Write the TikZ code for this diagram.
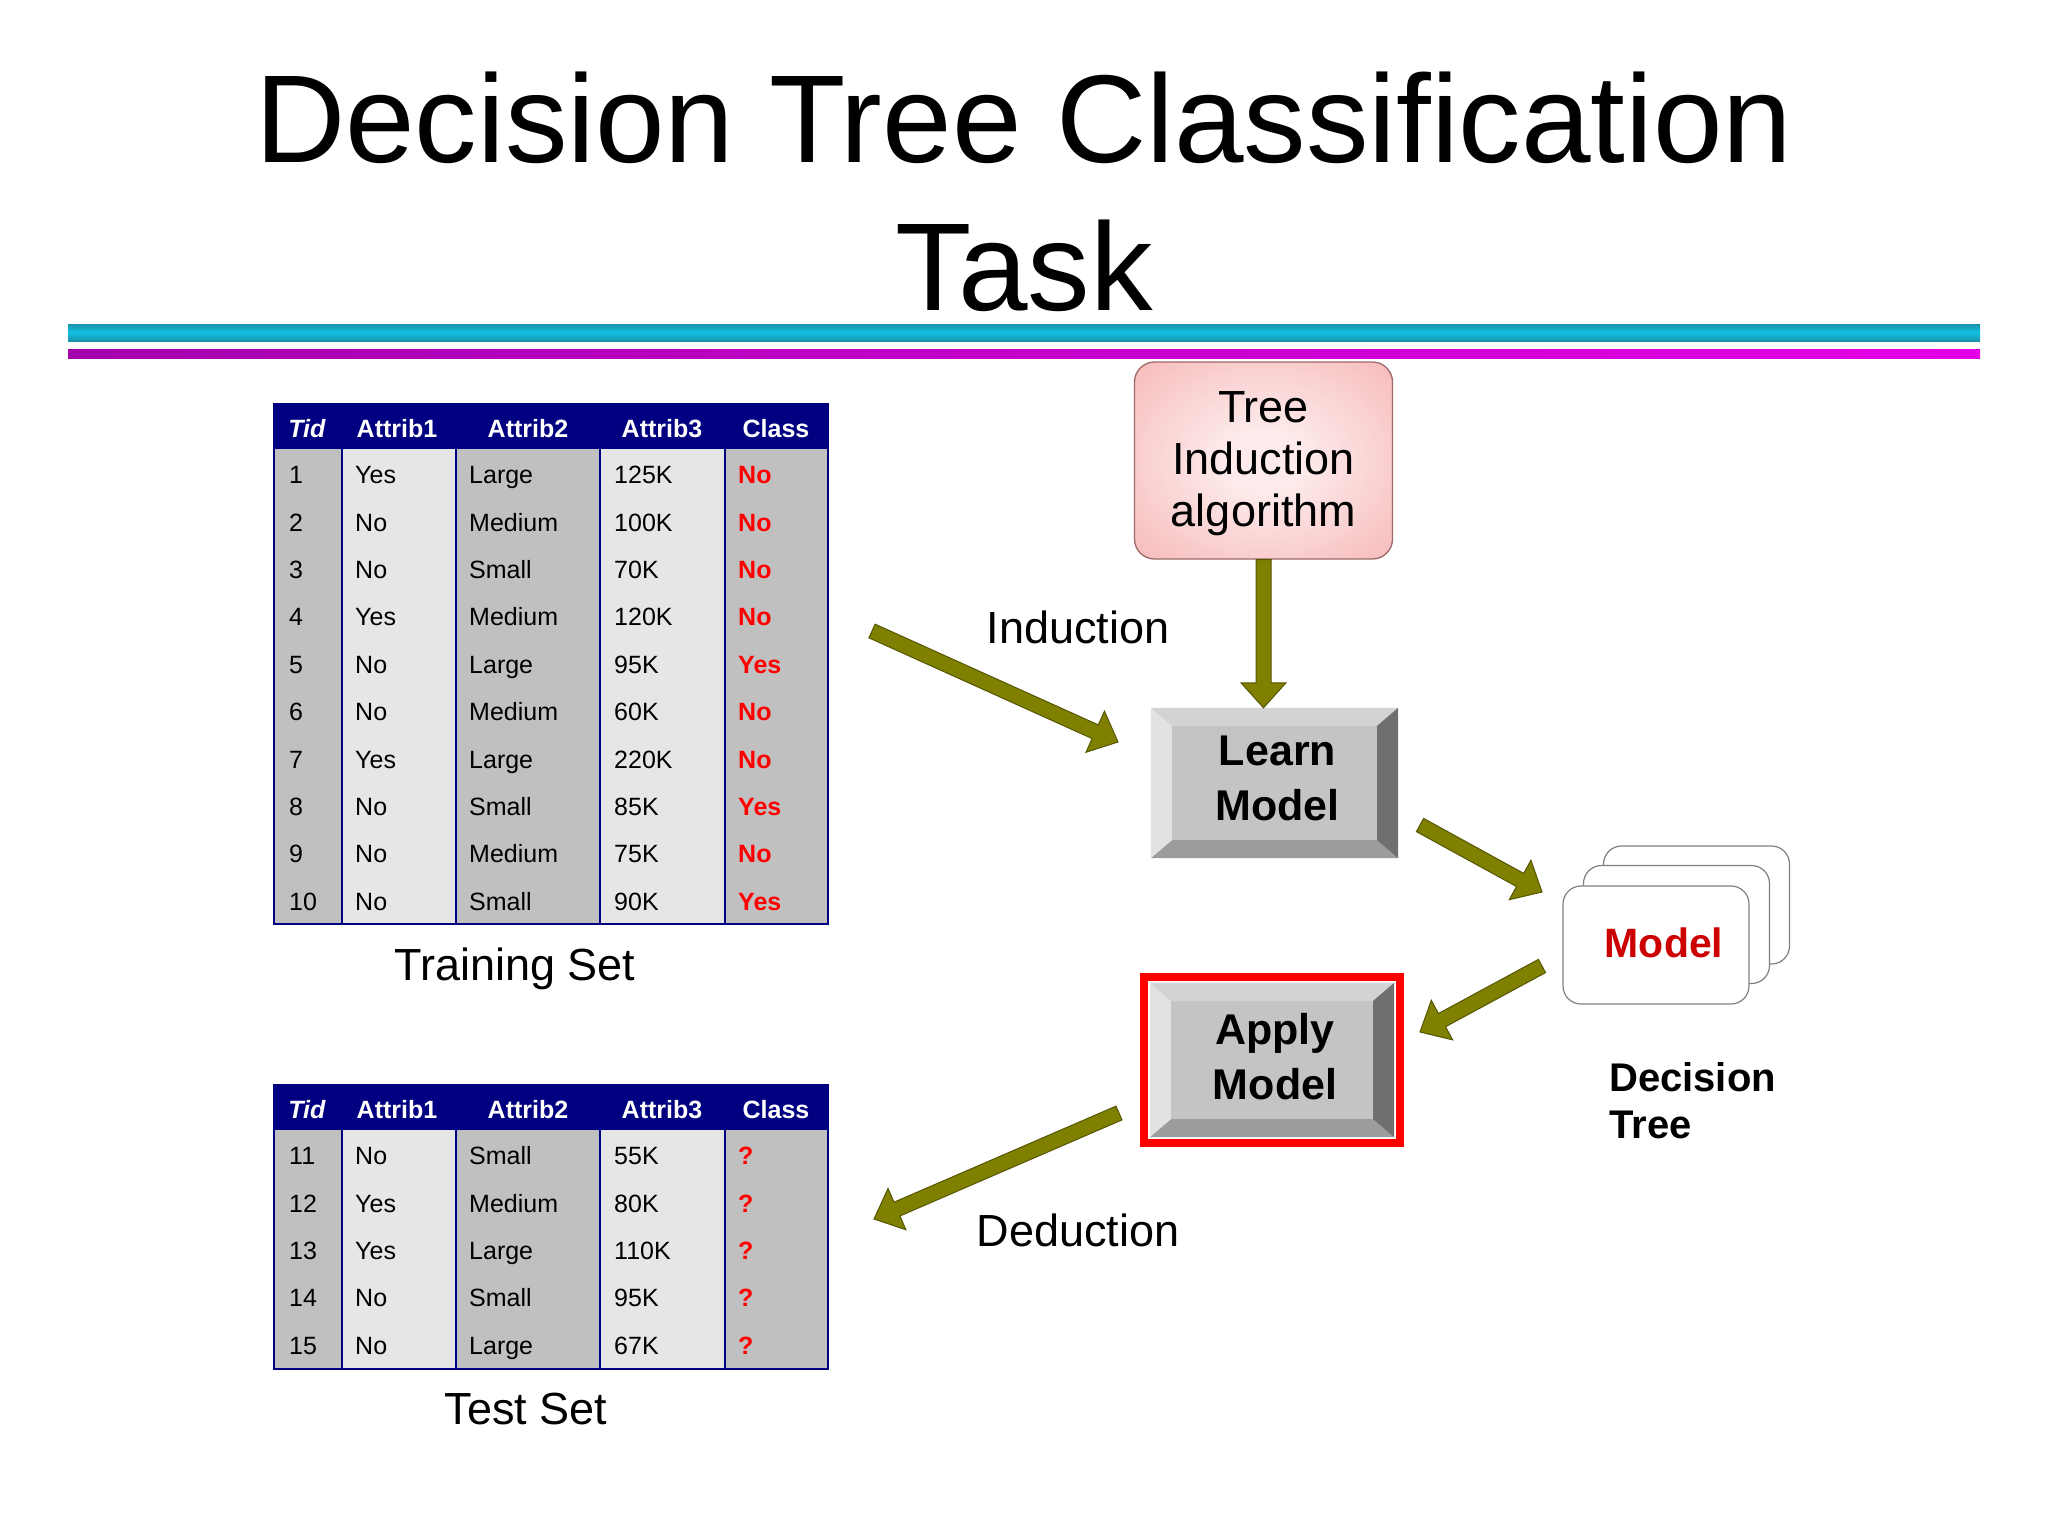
\documentclass[tikz,border=0pt]{standalone}
\usepackage{fontspec}
\setmainfont{Liberation Sans}
\usetikzlibrary{calc,shadings}
\definecolor{navy}{HTML}{000080}
\definecolor{colgray}{HTML}{C0C0C0}
\definecolor{collight}{HTML}{E6E6E6}
\definecolor{redtxt}{HTML}{FF0000}
\definecolor{modelred}{HTML}{CC0000}
\definecolor{olivearrow}{HTML}{808000}
\definecolor{olivedark}{HTML}{555500}
\definecolor{cyandark}{HTML}{1A93AA}
\definecolor{cyanmid}{HTML}{10C0E2}
\definecolor{magL}{HTML}{A400AE}
\definecolor{magR}{HTML}{E400E6}
\definecolor{pinkin}{HTML}{FDEAEA}
\definecolor{pinkout}{HTML}{F4A2A2}
\definecolor{pinkborder}{HTML}{9C6A6A}
\definecolor{bevface}{HTML}{C4C4C4}
\definecolor{bevtop}{HTML}{D3D3D3}
\definecolor{bevleft}{HTML}{E2E2E2}
\definecolor{bevright}{HTML}{6F6F6F}
\definecolor{bevbottom}{HTML}{9C9C9C}
\definecolor{cardline}{HTML}{808080}
\pgfdeclareradialshading{pinkglow}{\pgfpoint{0bp}{0bp}}{color(0bp)=(pinkin); color(8bp)=(pinkin); color(50bp)=(pinkout); color(80bp)=(pinkout)}

\newcommand\blockarrow[2]{%
  \draw[arrowbody] let \p1=($(#2)!25pt!(#1)$) in
    ($(#1)!7.5pt!90:(#2)$) -- ($(\p1)!7.5pt!90:(#2)$) -- ($(\p1)!22.5pt!90:(#2)$) -- (#2)
    -- ($(\p1)!22.5pt!-90:(#2)$) -- ($(\p1)!7.5pt!-90:(#2)$) -- ($(#1)!7.5pt!-90:(#2)$) -- cycle;}

\newcommand\bevelbox[6]{% name, center, width, height, text, text shift
  \node[minimum width=#3, minimum height=#4, inner sep=0pt, fill=bevface] (#1) at (#2) {};
  \fill[bevtop] (#1.north west) -- (#1.north east) -- ([shift={(-21,18)}]#1.north east) -- ([shift={(21,18)}]#1.north west) -- cycle;
  \fill[bevbottom] (#1.south west) -- (#1.south east) -- ([shift={(-21,-18)}]#1.south east) -- ([shift={(21,-18)}]#1.south west) -- cycle;
  \fill[bevleft] (#1.north west) -- (#1.south west) -- ([shift={(21,-18)}]#1.south west) -- ([shift={(21,18)}]#1.north west) -- cycle;
  \fill[bevright] (#1.north east) -- (#1.south east) -- ([shift={(-21,-18)}]#1.south east) -- ([shift={(-21,18)}]#1.north east) -- cycle;
  \node[btext] (#1-text) at ([xshift=3pt,yshift=#6]#1.center) {#5};}

\begin{document}
\begin{tikzpicture}[x=1pt,y=-1pt,
  cell/.style={anchor=base west,inner sep=0pt,font=\fontsize{25}{30}\selectfont},
  classcell/.style={anchor=base west,inner sep=0pt,text=redtxt,font=\fontsize{25}{30}\selectfont\bfseries},
  hdr/.style={anchor=base,inner sep=0pt,text=white,font=\fontsize{25}{30}\selectfont\bfseries},
  label/.style={inner sep=0pt,font=\fontsize{45}{52}\selectfont},
  btext/.style={inner sep=0pt,align=center,font=\fontsize{43}{55}\selectfont\bfseries},
  arrowbody/.style={fill=olivearrow,draw=olivedark,line width=1pt,line join=miter},
  card/.style={draw=cardline,line width=1.2pt,fill=white,rounded corners=18pt,minimum width=186pt,minimum height=118pt,inner sep=0pt},
  colsep/.style={draw=navy,line width=2pt}]
\useasboundingbox (0,0) rectangle (2048,1536);
\fill[white] (0,0) rectangle (2048,1536);

% title
\node[anchor=north,inner sep=0pt,align=center,font=\fontsize{125}{148}\selectfont] (title) at (1024,72) {Decision Tree Classification\\Task};

% stripes
\shade[top color=cyandark,bottom color=cyandark,middle color=cyanmid] (68,324) rectangle (1980,341);
\shade[left color=magL,right color=magR] (68,349) rectangle (1980,358);

% ---------- training table ----------
\fill[navy] (274,404) rectangle (828,449);
\fill[colgray] (274,449) rectangle (342,924);
\fill[collight] (342,449) rectangle (456,924);
\fill[colgray] (456,449) rectangle (600,924);
\fill[collight] (600,449) rectangle (725,924);
\fill[colgray] (725,449) rectangle (828,924);
\foreach \cx in {342,456,600,725} \draw[colsep] (\cx,449) -- (\cx,924);
\draw[navy,line width=2pt] (274,404) rectangle (828,924);
\node[hdr] (trh1) at (307,437) {\textit{Tid}};
\node[hdr] (trh2) at (397,437) {Attrib1};
\node[hdr] (trh3) at (528,437) {Attrib2};
\node[hdr] (trh4) at (662,437) {Attrib3};
\node[hdr] (trh5) at (776,437) {Class};
\foreach \t/\a/\b/\c/\k [count=\r from 0] in {1/Yes/Large/125K/No,2/No/Medium/100K/No,3/No/Small/70K/No,4/Yes/Medium/120K/No,5/No/Large/95K/Yes,6/No/Medium/60K/No,7/Yes/Large/220K/No,8/No/Small/85K/Yes,9/No/Medium/75K/No,10/No/Small/90K/Yes}{
  \pgfmathsetmacro\yb{449+23.7+11+47.4*\r}
  \node[cell] (tr-\t-1) at (289,\yb) {\t};
  \node[cell] (tr-\t-2) at (355,\yb) {\a};
  \node[cell] (tr-\t-3) at (469,\yb) {\b};
  \node[cell] (tr-\t-4) at (614,\yb) {\c};
  \node[classcell] (tr-\t-5) at (738,\yb) {\k};
}
\node[label] (trainlabel) at (515,969) {Training Set};

% ---------- test table ----------
\fill[navy] (274,1085) rectangle (828,1130);
\fill[colgray] (274,1130) rectangle (342,1369);
\fill[collight] (342,1130) rectangle (456,1369);
\fill[colgray] (456,1130) rectangle (600,1369);
\fill[collight] (600,1130) rectangle (725,1369);
\fill[colgray] (725,1130) rectangle (828,1369);
\foreach \cx in {342,456,600,725} \draw[colsep] (\cx,1130) -- (\cx,1369);
\draw[navy,line width=2pt] (274,1085) rectangle (828,1369);
\node[hdr] (teh1) at (307,1118) {\textit{Tid}};
\node[hdr] (teh2) at (397,1118) {Attrib1};
\node[hdr] (teh3) at (528,1118) {Attrib2};
\node[hdr] (teh4) at (662,1118) {Attrib3};
\node[hdr] (teh5) at (776,1118) {Class};
\foreach \t/\a/\b/\c [count=\r from 0] in {11/No/Small/55K,12/Yes/Medium/80K,13/Yes/Large/110K,14/No/Small/95K,15/No/Large/67K}{
  \pgfmathsetmacro\yb{1130+23.7+11+47.4*\r}
  \node[cell] (te-\t-1) at (289,\yb) {\t};
  \node[cell] (te-\t-2) at (355,\yb) {\a};
  \node[cell] (te-\t-3) at (469,\yb) {\b};
  \node[cell] (te-\t-4) at (614,\yb) {\c};
  \node[classcell] (te-\t-5) at (738,\yb) {?};
}
\node[label] (testlabel) at (526,1409) {Test Set};

% ---------- tree induction algorithm ----------
\node[draw=pinkborder,line width=1.3pt,rounded corners=20pt,minimum width=258pt,minimum height=197pt,inner sep=0pt,shading=pinkglow,align=center,font=\fontsize{45}{52}\selectfont] (tia) at (1263.5,460.5) {};
\node[inner sep=0pt,align=center,font=\fontsize{45}{52}\selectfont] (tiatext) at ([yshift=-3pt]tia.center) {Tree\\Induction\\algorithm};

% ---------- learn / apply model ----------
\bevelbox{learn}{1274.5,783}{247pt}{150pt}{Learn\\Model}{5pt}
\node[draw=red,line width=8pt,minimum width=256pt,minimum height=166pt,inner sep=0pt] (applyframe) at (1272,1060) {};
\bevelbox{apply}{1272,1060}{244pt}{154pt}{Apply\\Model}{3pt}

% ---------- model cards ----------
\node[card] (card3) at (1696.5,905) {};
\node[card] (card2) at (1676.5,924.5) {};
\node[card] (card1) at (1656,945) {};
\node[inner sep=0pt,text=modelred,font=\fontsize{41}{48}\selectfont\bfseries] (modeltext) at (1664,943) {Model};
\node[anchor=north west,inner sep=0pt,align=left,font=\fontsize{40}{47}\selectfont\bfseries] (dtlabel) at (1609,1062) {Decision\\Tree};

% ---------- labels ----------
\node[label] (indlabel) at (1078,627) {Induction};
\node[label] (dedlabel) at (1078,1230) {Deduction};

% ---------- arrows ----------
\coordinate (indA) at (872,631);
\coordinate (indB) at (1118,742);
\coordinate (lmA) at (1420,825);
\coordinate (lmB) at (1542,892);
\coordinate (maA) at (1542,966);
\coordinate (maB) at (1420,1032);
\coordinate (dedA) at (1119,1113);
\coordinate (dedB) at (874,1219);
\coordinate (vtip) at (tia.south |- learn.north);
\blockarrow{tia.south}{vtip}
\blockarrow{indA}{indB}
\blockarrow{lmA}{lmB}
\blockarrow{maA}{maB}
\blockarrow{dedA}{dedB}
\end{tikzpicture}
\end{document}
